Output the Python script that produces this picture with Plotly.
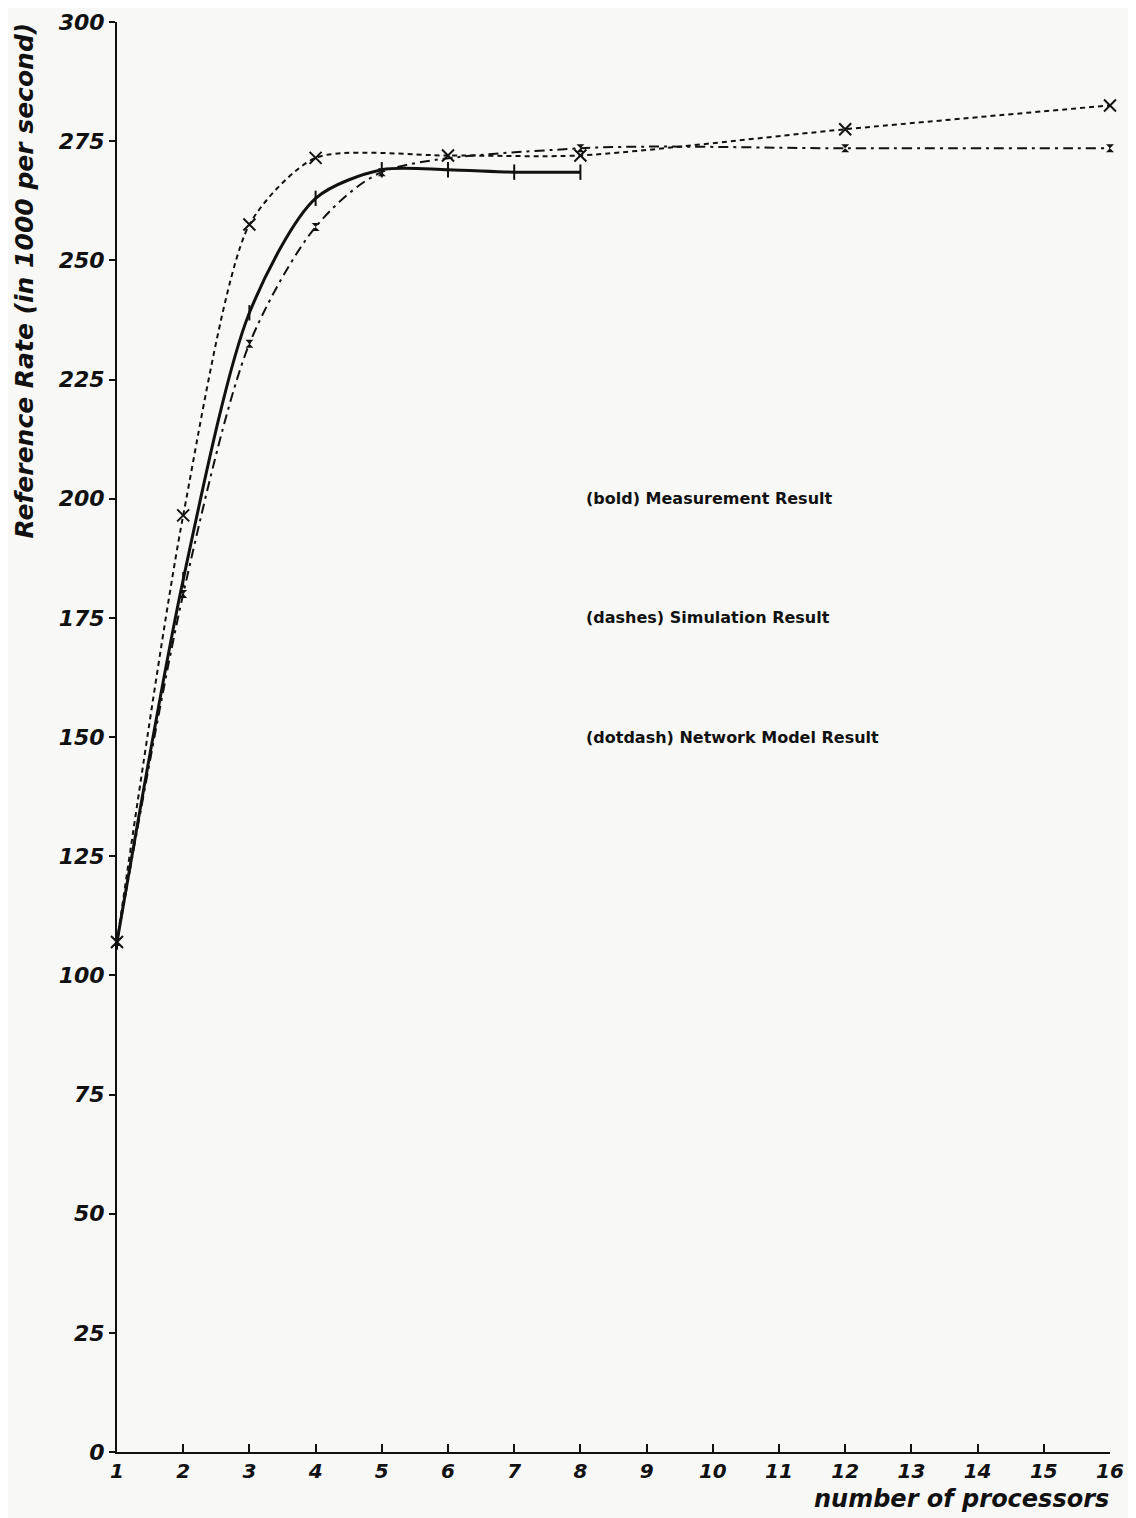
import plotly.graph_objects as go

# processors on x, reference rate (in 1000/s) on y
meas_x = [1, 2, 3, 4, 5, 6, 7, 8]
meas_y = [107, 183, 239, 263, 269, 269, 268.5, 268.5]

sim_x = [1, 2, 3, 4, 6, 8, 12, 16]
sim_y = [107, 196.5, 257.5, 271.5, 272, 272, 277.5, 282.5]

net_x = [1, 2, 3, 4, 5, 8, 12, 16]
net_y = [107, 180, 232.5, 257, 268.5, 273.5, 273.5, 273.5]

y_ticks = [0, 25, 50, 75, 100, 125, 150, 175, 200, 225, 250, 275, 300]
x_ticks = list(range(1, 17))

legend_notes = [
    (200, "(bold) Measurement Result"),
    (175, "(dashes) Simulation Result"),
    (150, "(dotdash) Network Model Result"),
]

INK = "#111111"
PAPER = "#f8f8f6"
FONT = "DejaVu Sans"

fig = go.Figure()

fig.add_trace(go.Scatter(
    x=sim_x, y=sim_y, mode="lines+markers", name="Simulation", cliponaxis=False,
    line=dict(color=INK, width=2, dash="5px,4px", shape="spline", smoothing=0.7),
    marker=dict(symbol="x-thin", size=12, line=dict(color=INK, width=2)),
))

fig.add_trace(go.Scatter(
    x=net_x, y=net_y, mode="lines+markers", name="Network Model", cliponaxis=False,
    line=dict(color=INK, width=2, dash="10px,5px,3px,5px", shape="spline", smoothing=0.8),
    marker=dict(symbol="hourglass", size=8, color=INK),
))

fig.add_trace(go.Scatter(
    x=meas_x, y=meas_y, mode="lines+markers", name="Measurement", cliponaxis=False,
    line=dict(color=INK, width=3, shape="spline", smoothing=0.8),
    marker=dict(symbol="line-ns", size=11, line=dict(color=INK, width=2)),
))

for yv, txt in legend_notes:
    fig.add_annotation(
        x=8.05, y=yv, xref="x", yref="y", text=txt, showarrow=False,
        xanchor="left", yanchor="middle",
        font=dict(family=FONT, size=16, color=INK, weight="bold"),
    )

fig.add_annotation(
    x=-0.093, y=0.819, xref="paper", yref="paper",
    text="Reference Rate (in 1000 per second)", textangle=-90, showarrow=False,
    xanchor="center", yanchor="middle",
    font=dict(family=FONT, size=25, color=INK, style="italic", weight="bold"),
)
fig.add_annotation(
    x=1.0, y=-0.0435, xref="paper", yref="paper",
    text="number of processors", showarrow=False, borderpad=0,
    xanchor="right", yanchor="bottom",
    font=dict(family=FONT, size=24, color=INK, style="italic", weight="bold"),
)

# page body has an 8px margin, so the figure is shifted to keep the plot box in place
fig.update_layout(
    width=1128, height=1510,
    margin=dict(l=109, r=26, t=14, b=66, autoexpand=False),
    paper_bgcolor=PAPER, plot_bgcolor=PAPER,
    showlegend=False,
)
fig.update_xaxes(
    range=[1, 16], tickvals=x_ticks, showgrid=False, zeroline=False,
    showline=True, linecolor=INK, linewidth=2, automargin=False,
    ticks="inside", ticklen=8, tickwidth=2, tickcolor=INK,
    tickfont=dict(family=FONT, size=20, color=INK, style="italic", weight="bold"),
)
fig.update_yaxes(
    range=[0, 300], tickvals=y_ticks, showgrid=False, zeroline=False,
    showline=True, linecolor=INK, linewidth=2, automargin=False,
    ticks="outside", ticklen=6, tickwidth=2, tickcolor=INK,
    tickfont=dict(family=FONT, size=22, color=INK, style="italic", weight="bold"),
)

fig.write_html("out.html")
